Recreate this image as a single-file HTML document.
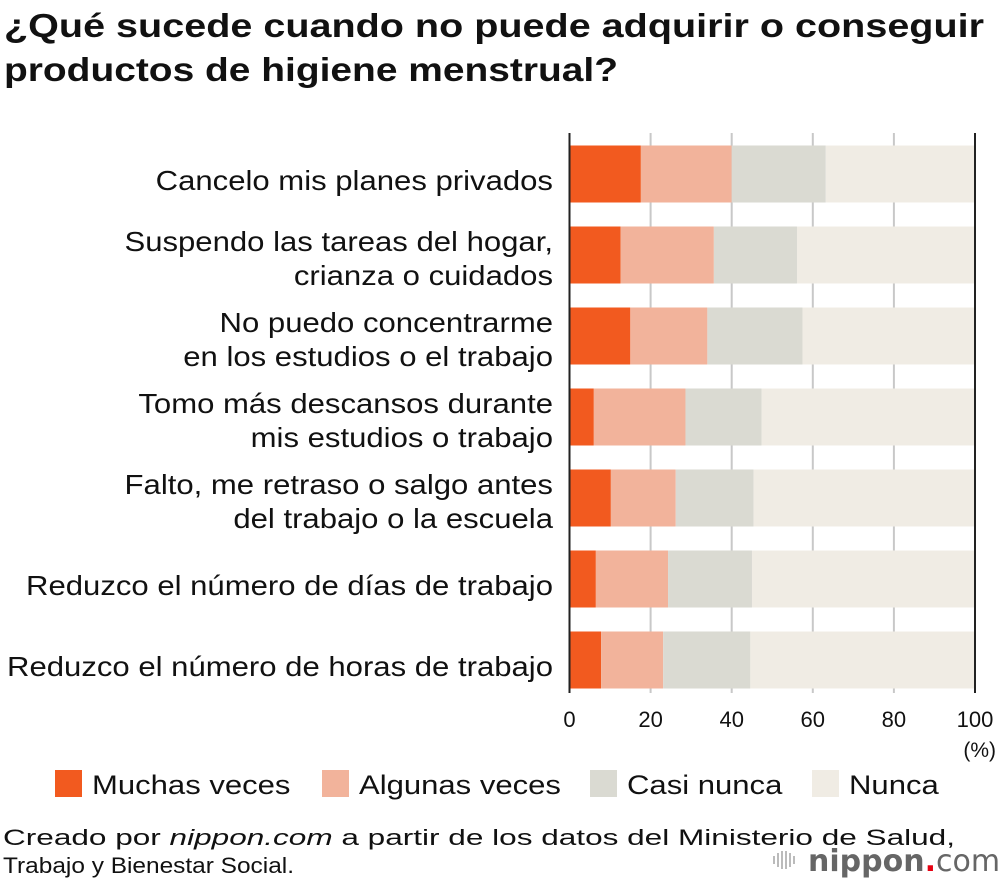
<!DOCTYPE html>
<html><head><meta charset="utf-8">
<style>
body{margin:0;background:#fff;font-family:"Liberation Sans",Arial,sans-serif;}
#wrap{position:relative;width:1000px;height:888px;overflow:hidden;}
</style></head>
<body><div id="wrap">
<svg id="chart" width="1000" height="888">
<text id="t1" x="4" y="37" font-size="33" font-weight="bold" fill="#111">¿Qué sucede cuando no puede adquirir o conseguir</text>
<text id="t2" x="4" y="81" font-size="33" font-weight="bold" fill="#111">productos de higiene menstrual?</text>
<g id="grid"></g><g id="bars"></g><g id="labels"></g><g id="ticks"></g>
<text x="996" y="757" font-size="21" text-anchor="end" fill="#111">(%)</text>
<g id="legend"></g>
<text id="s1" x="3" y="845" font-size="22" fill="#111">Creado por <tspan font-style="italic">nippon.com</tspan> a partir de los datos del Ministerio de Salud,</text>
<text id="s2" x="3" y="873" font-size="22" fill="#111">Trabajo y Bienestar Social.</text>
<g>
<g fill="#bbb"><rect x="773" y="856" width="2" height="8"/><rect x="777" y="853" width="2" height="14"/><rect x="781" y="851" width="2" height="18"/><rect x="785" y="851" width="2" height="18"/><rect x="789" y="853" width="2" height="14"/><rect x="793" y="856" width="2" height="8"/></g>
<text x="808" y="871" font-size="30" fill="#666" font-family="DejaVu Sans, sans-serif" font-weight="bold">nippon<tspan fill="#e60012">.</tspan><tspan font-weight="normal">com</tspan></text>
</g>
</svg>
<script>
const categories=[["Cancelo mis planes privados"],["Suspendo las tareas del hogar,","crianza o cuidados"],["No puedo concentrarme","en los estudios o el trabajo"],["Tomo más descansos durante","mis estudios o trabajo"],["Falto, me retraso o salgo antes","del trabajo o la escuela"],["Reduzco el número de días de trabajo"],["Reduzco el número de horas de trabajo"]];
const muchas=[17.6,12.6,15.0,6.0,10.2,6.5,7.8];
const algunas=[22.4,23.0,19.0,22.6,16.0,17.8,15.3];
const casi=[23.2,20.5,23.5,18.8,19.2,20.7,21.5];
const nunca=[36.8,43.9,42.5,52.6,54.6,55.0,55.4];
const seriesNames=["Muchas veces","Algunas veces","Casi nunca","Nunca"];
const colors=["#f25a1f","#f2b39b","#dadad2","#f0ece4"];
const ticks=[0,20,40,60,80,100];
const ns="http://www.w3.org/2000/svg";
const X0=569.5,X1=975,Y0=145.5,STEP=81,BH=57;
const xs=v=>X0+(X1-X0)*v/100;
const yb=i=>Y0+i*STEP;
function mk(t,a,p){const e=document.createElementNS(ns,t);for(const k in a)e.setAttribute(k,a[k]);p.appendChild(e);return e;}
function fitW(el,w){el.setAttribute('textLength',w);el.setAttribute('lengthAdjust','spacingAndGlyphs');}
function fitK(el,k){fitW(el,el.getComputedTextLength()*k);}
fitW(document.getElementById('t1'),980);
fitW(document.getElementById('t2'),614);
fitW(document.getElementById('s1'),952);
fitW(document.getElementById('s2'),291);
const grid=document.getElementById('grid'),bars=document.getElementById('bars'),labels=document.getElementById('labels'),tk=document.getElementById('ticks'),lg=document.getElementById('legend');
ticks.forEach(t=>{
  const edge=(t==0||t==100);
  const l=mk('line',{x1:xs(t),x2:xs(t),y1:133,y2:693,stroke:edge?'#222':'#c8c8c8','stroke-width':2},edge?tk:grid);
  
  
  const tx=mk('text',{x:xs(t),y:727,'font-size':22,'text-anchor':'middle',fill:'#111'},tk);
  tx.textContent=t;
  
  
});
const series=[muchas,algunas,casi,nunca];
categories.forEach((c,i)=>{
  let acc=0;
  series.forEach((s,j)=>{
    const r=mk('rect',{x:xs(acc),y:yb(i),width:xs(acc+s[i])-xs(acc),height:BH,fill:colors[j]},bars);
    
    
    acc+=s[i];
  });
  const cy=yb(i)+BH/2;
  c.forEach((line,k)=>{
    const y=c.length==1?cy+16:cy-4+k*34;
    const t=mk('text',{x:553,y:y,'font-size':28,'text-anchor':'end',fill:'#111'},labels);
    t.textContent=line;
    
    
    fitK(t,1.11);
  });
});
const lx=[55,322,590,812];
seriesNames.forEach((n,j)=>{
  const r=mk('rect',{x:lx[j],y:770,width:27,height:27,fill:colors[j]},lg);
  
  
  const t=mk('text',{x:lx[j]+37,y:794,'font-size':27,fill:'#111'},lg);
  t.textContent=n;
  
  
  fitK(t,1.15);
});
</script>
</div></body></html>
